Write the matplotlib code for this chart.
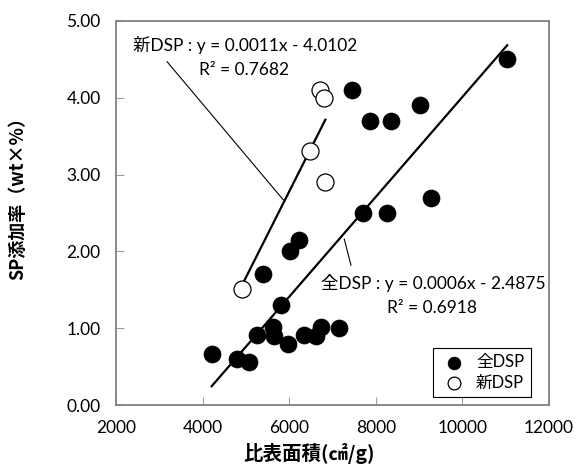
import numpy as np
import matplotlib.pyplot as plt

# 全DSP (filled)
all_x = [4210, 4800, 5077, 5262, 5400, 5630, 5645, 5810, 5970, 6030, 6226, 6342,
         6610, 6725, 7150, 7460, 7710, 7866, 8266, 8340, 9030, 9285, 11035]
all_y = [0.66, 0.60, 0.56, 0.91, 1.71, 1.02, 0.90, 1.30, 0.80, 2.00, 2.15, 0.91,
         0.90, 1.02, 1.00, 4.10, 2.50, 3.70, 2.50, 3.70, 3.90, 2.70, 4.50]
# 新DSP (open)
new_x = [4900, 6480, 6710, 6800, 6835]
new_y = [1.51, 3.31, 4.10, 4.00, 2.91]

xticks = [2000, 4000, 6000, 8000, 10000, 12000]
yticks = [0, 1, 2, 3, 4, 5]

mix = ['Lato', 'Noto Sans CJK JP']
jp = ['Noto Sans CJK JP']

fig = plt.figure(figsize=(5.77, 4.70), dpi=100)
ax = fig.add_axes([116/577, 65/470, 433/577, 384/470])

# trend lines over each series' own x range
for xs, ys in [(all_x, all_y), (new_x, new_y)]:
    k, b = np.polyfit(xs, ys, 1)
    xx = np.array([min(xs), max(xs)])
    ax.plot(xx, k*xx + b, color='black', lw=1.6, zorder=2)

ax.scatter(all_x, all_y, s=150, c='black', edgecolors='black', lw=0.5, zorder=3, label='全DSP')
ax.scatter(new_x, new_y, s=150, c='white', edgecolors='black', lw=0.9, zorder=4, label='新DSP')

# equation labels + leader lines
ax.plot([3180, 5865], [4.47, 2.67], color='black', lw=0.8, zorder=1)
ax.plot([7427, 7272], [1.82, 2.16], color='black', lw=0.8, zorder=1)
ax.text(2393, 4.69, '新DSP : y = 0.0011x - 4.0102', family=mix, fontsize=12.5, va='center', ha='left')
ax.text(4956, 4.36, 'R² = 0.7682', family=mix, fontsize=12.5, va='center', ha='center')
ax.text(6725, 1.585, '全DSP : y = 0.0006x - 2.4875', family=mix, fontsize=12.5, va='center', ha='left')
ax.text(8250, 1.26, 'R² = 0.6918', family=mix, fontsize=12.5, va='center', ha='left')

ax.set_xlim(2000, 12000)
ax.set_ylim(0, 5)
ax.set_xticks(xticks)
ax.set_yticks(yticks)
ax.set_yticklabels([f'{v:.2f}' for v in yticks])
ax.tick_params(direction='in', length=6, color='#a0a0a0', labelsize=12.5, pad=11)
for lab in ax.get_xticklabels() + ax.get_yticklabels():
    lab.set_family(mix)
for s in ax.spines.values():
    s.set_color('#808080')
    s.set_linewidth(1.3)

ax.set_xlabel('比表面積(㎠/g)', family=jp, fontsize=14, fontweight='bold')
ax.set_ylabel('SP添加率（wt×%）', family=jp, fontsize=13, fontweight='bold')
ax.xaxis.set_label_coords(0.446, -0.098)
ax.yaxis.set_label_coords(-0.205, 0.55)

leg = ax.legend(loc='lower right', bbox_to_anchor=(0.958, 0.02), borderaxespad=0,
                fancybox=False, framealpha=1, edgecolor='black',
                prop={'family': mix, 'size': 12}, markerscale=0.75,
                handletextpad=0.4, borderpad=0.4, labelspacing=0.25, handlelength=1.8)
leg.get_frame().set_linewidth(0.8)

fig.savefig('out.png', dpi=100)
